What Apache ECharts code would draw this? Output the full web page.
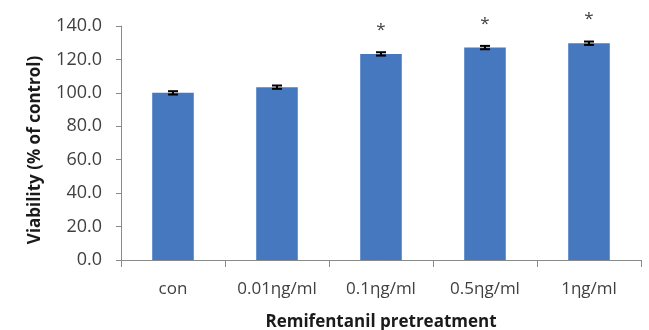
<!DOCTYPE html>
<html>
<head>
<meta charset="utf-8">
<script src="https://cdn.jsdelivr.net/npm/echarts@6/dist/echarts.min.js"></script>
<style>
  html, body { margin: 0; padding: 0; background: #ffffff; }
  #chart { width: 649px; height: 330px; }
</style>
</head>
<body>
<div id="chart"></div>
<script>
// Cell viability after remifentanil pretreatment (mean ± SEM)
const categories = ['con', '0.01ηg/ml', '0.1ηg/ml', '0.5ηg/ml', '1ηg/ml'];
const viability = [100.0, 103.4, 123.3, 127.1, 129.7];
const sem = [1.0, 1.0, 1.0, 1.0, 1.0];
const significance = ['', '', '*', '*', '*'];
const yMin = 0, yMax = 140, yStep = 20;

const textColor = '#404040';
const axisColor = '#8a8a8a';
const barColor = '#4678c0';

const errorData = viability.map((v, i) => [i, v - sem[i], v + sem[i], significance[i]]);

const chart = echarts.init(document.getElementById('chart'), null, { renderer: 'canvas' });

chart.setOption({
  animation: false,
  backgroundColor: '#ffffff',
  grid: { left: 121, right: 8, top: 26, bottom: 70, containLabel: false, outerBoundsMode: 'none' },
  xAxis: {
    type: 'category',
    data: categories,
    boundaryGap: true,
    name: 'Remifentanil pretreatment',
    nameLocation: 'middle',
    nameGap: 54,
    nameTextStyle: { fontFamily: 'Open Sans', fontWeight: 'bold', fontSize: 17, color: '#1a1a1a' },
    axisLine: { lineStyle: { color: axisColor, width: 1 } },
    axisTick: { show: true, alignWithLabel: false, length: 7, lineStyle: { color: axisColor } },
    axisLabel: { interval: 0, margin: 21, fontFamily: 'Open Sans', fontSize: 17, color: textColor }
  },
  yAxis: {
    type: 'value',
    min: yMin,
    max: yMax,
    interval: yStep,
    name: 'Viability (% of control)',
    nameLocation: 'middle',
    nameGap: 77,
    nameRotate: 90,
    nameTextStyle: { fontFamily: 'Open Sans', fontWeight: 'bold', fontSize: 17, color: '#1a1a1a', padding: [0, 14, 0, 0] },
    axisLine: { show: true, lineStyle: { color: axisColor, width: 1 } },
    axisTick: { show: true, length: 5, lineStyle: { color: axisColor } },
    splitLine: { show: false },
    axisLabel: {
      margin: 19,
      fontFamily: 'Open Sans',
      fontSize: 18,
      color: textColor,
      formatter: v => v.toFixed(1)
    }
  },
  series: [
    {
      type: 'bar',
      data: viability,
      barWidth: '40%',
      itemStyle: { color: barColor },
      z: 2
    },
    {
      type: 'custom',
      data: errorData,
      z: 5,
      renderItem: function (params, api) {
        const idx = api.value(0);
        const lo = api.coord([idx, api.value(1)]);
        const hi = api.coord([idx, api.value(2)]);
        const half = 5;
        const stroke = { stroke: '#000000', lineWidth: 2 };
        const children = [
          { type: 'line', shape: { x1: lo[0], y1: lo[1], x2: hi[0], y2: hi[1] }, style: stroke },
          { type: 'line', shape: { x1: lo[0] - half, y1: lo[1], x2: lo[0] + half, y2: lo[1] }, style: stroke },
          { type: 'line', shape: { x1: hi[0] - half, y1: hi[1], x2: hi[0] + half, y2: hi[1] }, style: stroke }
        ];
        const mark = significance[idx];
        if (mark) {
          children.push({
            type: 'text',
            style: {
              text: mark,
              x: hi[0],
              y: hi[1] - 22,
              align: 'center',
              verticalAlign: 'middle',
              fontFamily: 'Open Sans',
              fontSize: 17,
              fill: textColor
            }
          });
        }
        return { type: 'group', children: children };
      }
    }
  ]
});
</script>
</body>
</html>
